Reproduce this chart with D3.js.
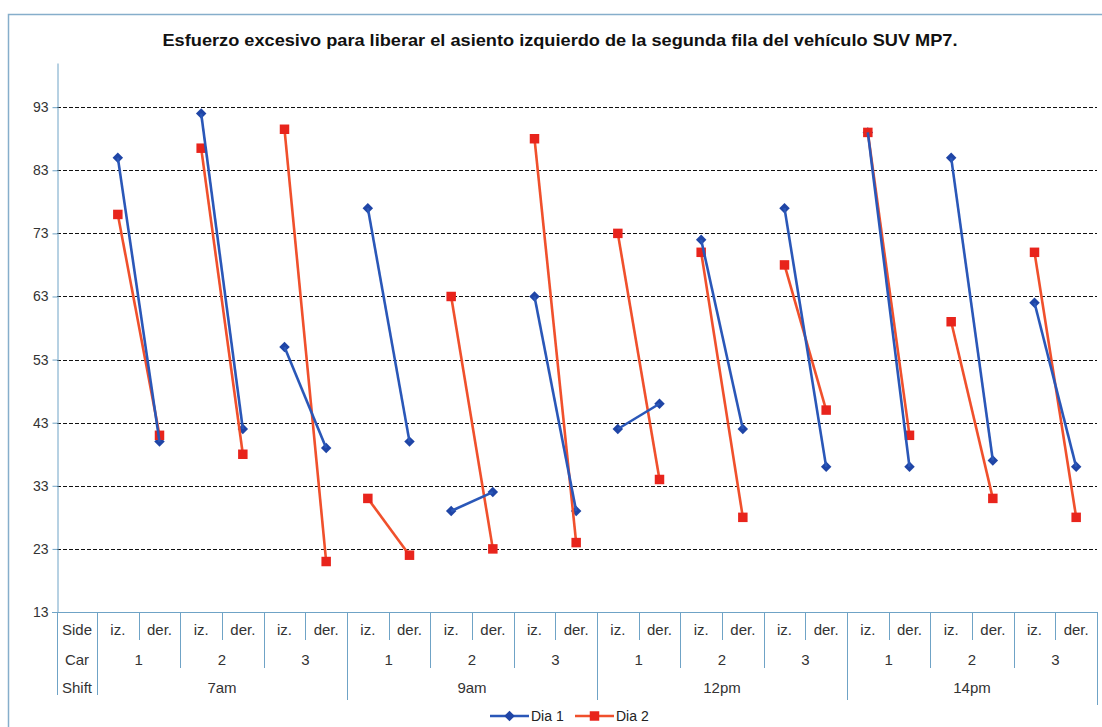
<!DOCTYPE html>
<html>
<head>
<meta charset="utf-8">
<script src="https://cdn.jsdelivr.net/npm/d3@7"></script>
<style>
  html, body { margin: 0; padding: 0; background: #fff; }
  svg { display: block; font-family: "Liberation Sans", Arial, sans-serif; }
</style>
</head>
<body>
<svg id="chart" width="1102" height="727"></svg>
<script>
// Category hierarchy: shift > car > side
const shifts = ["7am", "9am", "12pm", "14pm"];
const cars = ["1", "2", "3"];
const sides = ["iz.", "der."];

// Measured effort per category (order: shift, car, side)
const dia1 = [85, 40, 92, 42, 55, 39, 77, 40, 29, 32, 63, 29, 42, 46, 72, 42, 77, 36, 89, 36, 85, 37, 62, 36];
const dia2 = [76, 41, 86.5, 38, 89.5, 21, 31, 22, 63, 23, 88, 24, 73, 34, 70, 28, 68, 45, 89, 41, 59, 31, 70, 28];

const yTicks = [13, 23, 33, 43, 53, 63, 73, 83, 93];
const yMin = 13, yMax = 100;

const titleText = "Esfuerzo excesivo para liberar el asiento izquierdo de la segunda fila del vehículo SUV MP7.";
const seriesNames = ["Dia 1", "Dia 2"];
const blue = "#2a57b8", blueMark = "#1f45a6";
const red = "#f0502c", redMark = "#e8241c";
const axisColor = "#6fa3c6";
const tickSize = 14, tableSize = 15;

// Build flat category list
const cats = [];
shifts.forEach(s => cars.forEach(c => sides.forEach(sd => cats.push({ shift: s, car: c, side: sd, key: s + "|" + c + "|" + sd }))));

const svg = d3.select("#chart");

// Outer chart frame
svg.append("rect")
  .attr("x", 8.5).attr("y", 14.5).attr("width", 1110).attr("height", 730)
  .attr("fill", "none").attr("stroke", "#86aecb").attr("stroke-width", 1.5);

const left = 57, right = 1097, headerRight = 97;
const x = d3.scaleBand().domain(cats.map(d => d.key)).range([headerRight, right]);
const y = d3.scaleLinear().domain([yMin, yMax]).range([612, 63]);

// Title
svg.append("text")
  .attr("x", 560).attr("y", 46)
  .attr("text-anchor", "middle")
  .attr("font-size", 17).attr("font-weight", "bold").attr("fill", "#111")
  .attr("textLength", 795).attr("lengthAdjust", "spacingAndGlyphs")
  .text(titleText);

// Horizontal dashed gridlines
svg.append("g").selectAll("line")
  .data(yTicks.filter(t => t > yMin))
  .join("line")
  .attr("x1", left).attr("x2", right)
  .attr("y1", d => Math.round(y(d)) + 0.5).attr("y2", d => Math.round(y(d)) + 0.5)
  .attr("stroke", "#111").attr("stroke-width", 1.2).attr("stroke-dasharray", "4,2");

// Y axis
const yAxis = svg.append("g")
  .attr("transform", `translate(${left + 0.5},0)`)
  .call(d3.axisLeft(y).tickValues(yTicks).tickSize(5).tickSizeOuter(0).tickPadding(4));
yAxis.select(".domain").attr("stroke", axisColor);
yAxis.selectAll(".tick line").attr("stroke", axisColor);
yAxis.selectAll(".tick text").attr("font-size", tickSize).attr("fill", "#333")
  .attr("font-family", "Liberation Sans, Arial, sans-serif");

// X axis baseline
svg.append("line")
  .attr("x1", left - 5).attr("x2", right)
  .attr("y1", 612.5).attr("y2", 612.5)
  .attr("stroke", axisColor).attr("stroke-width", 1);

// Category table below the axis
const rowSide = 630, rowCar = 660, rowShift = 688;
const table = svg.append("g").attr("font-size", tableSize).attr("fill", "#333");
[["Side", rowSide], ["Car", rowCar], ["Shift", rowShift]].forEach(([t, yy]) => {
  table.append("text").attr("x", (left + headerRight) / 2).attr("y", yy + 5)
    .attr("text-anchor", "middle").text(t);
});
const vline = (xx, y2) => table.append("line")
  .attr("x1", Math.round(xx) + 0.5).attr("x2", Math.round(xx) + 0.5)
  .attr("y1", 612).attr("y2", y2)
  .attr("stroke", axisColor).attr("stroke-width", 1);
vline(left, 695);
vline(headerRight, 695);

// Side labels and separators
cats.forEach((d, i) => {
  table.append("text").attr("x", x(d.key) + x.bandwidth() / 2).attr("y", rowSide + 5)
    .attr("text-anchor", "middle").text(d.side);
  const xe = x(d.key) + x.bandwidth();
  if (i === cats.length - 1) vline(xe, 705);
  else if ((i + 1) % 6 === 0) vline(xe, 700);
  else if ((i + 1) % 2 === 0) vline(xe, 668);
  else vline(xe, 640);
});
// Car labels
shifts.forEach(s => cars.forEach(c => {
  const x0 = x(s + "|" + c + "|" + sides[0]);
  const x1 = x(s + "|" + c + "|" + sides[1]) + x.bandwidth();
  table.append("text").attr("x", (x0 + x1) / 2).attr("y", rowCar + 5)
    .attr("text-anchor", "middle").text(c);
}));
// Shift labels
shifts.forEach(s => {
  const x0 = x(s + "|" + cars[0] + "|" + sides[0]);
  const x1 = x(s + "|" + cars[2] + "|" + sides[1]) + x.bandwidth();
  table.append("text").attr("x", (x0 + x1) / 2).attr("y", rowShift + 5)
    .attr("text-anchor", "middle").text(s);
});

// Series: each car gets its own iz.→der. segment
const cx = i => x(cats[i].key) + x.bandwidth() / 2;
const line = d3.line().x(d => cx(d.i)).y(d => y(d.v));
function pairs(vals) {
  const out = [];
  for (let i = 0; i < vals.length; i += 2) out.push([{ i, v: vals[i] }, { i: i + 1, v: vals[i + 1] }]);
  return out;
}

const diamond = d3.symbol().type(d3.symbolDiamond2).size(70);
const square = d3.symbol().type(d3.symbolSquare).size(90);

function drawLines(vals, color) {
  svg.append("g").selectAll("path").data(pairs(vals)).join("path")
    .attr("d", line)
    .attr("fill", "none").attr("stroke", color).attr("stroke-width", 2.6);
}
function drawMarkers(vals, markColor, sym) {
  svg.append("g").selectAll("path").data(vals.map((v, i) => ({ i, v }))).join("path")
    .attr("d", sym)
    .attr("transform", d => `translate(${cx(d.i)},${y(d.v)})`)
    .attr("fill", markColor);
}
// Layering: Dia 1 markers, Dia 2 lines and markers, then Dia 1 lines
drawMarkers(dia1, blueMark, diamond);
drawLines(dia2, red);
drawMarkers(dia2, redMark, square);
drawLines(dia1, blue);

// Legend
const lg = svg.append("g").attr("font-size", tickSize).attr("fill", "#222");
const legendItems = [
  { name: seriesNames[0], color: blue, mark: blueMark, sym: diamond, x0: 490 },
  { name: seriesNames[1], color: red, mark: redMark, sym: square, x0: 575 }
];
legendItems.forEach(it => {
  lg.append("line").attr("x1", it.x0).attr("x2", it.x0 + 39).attr("y1", 716).attr("y2", 716)
    .attr("stroke", it.color).attr("stroke-width", 2.6);
  lg.append("path").attr("d", it.sym).attr("transform", `translate(${it.x0 + 19.5},716)`).attr("fill", it.mark);
  lg.append("text").attr("x", it.x0 + 41).attr("y", 721).text(it.name);
});
</script>
</body>
</html>
